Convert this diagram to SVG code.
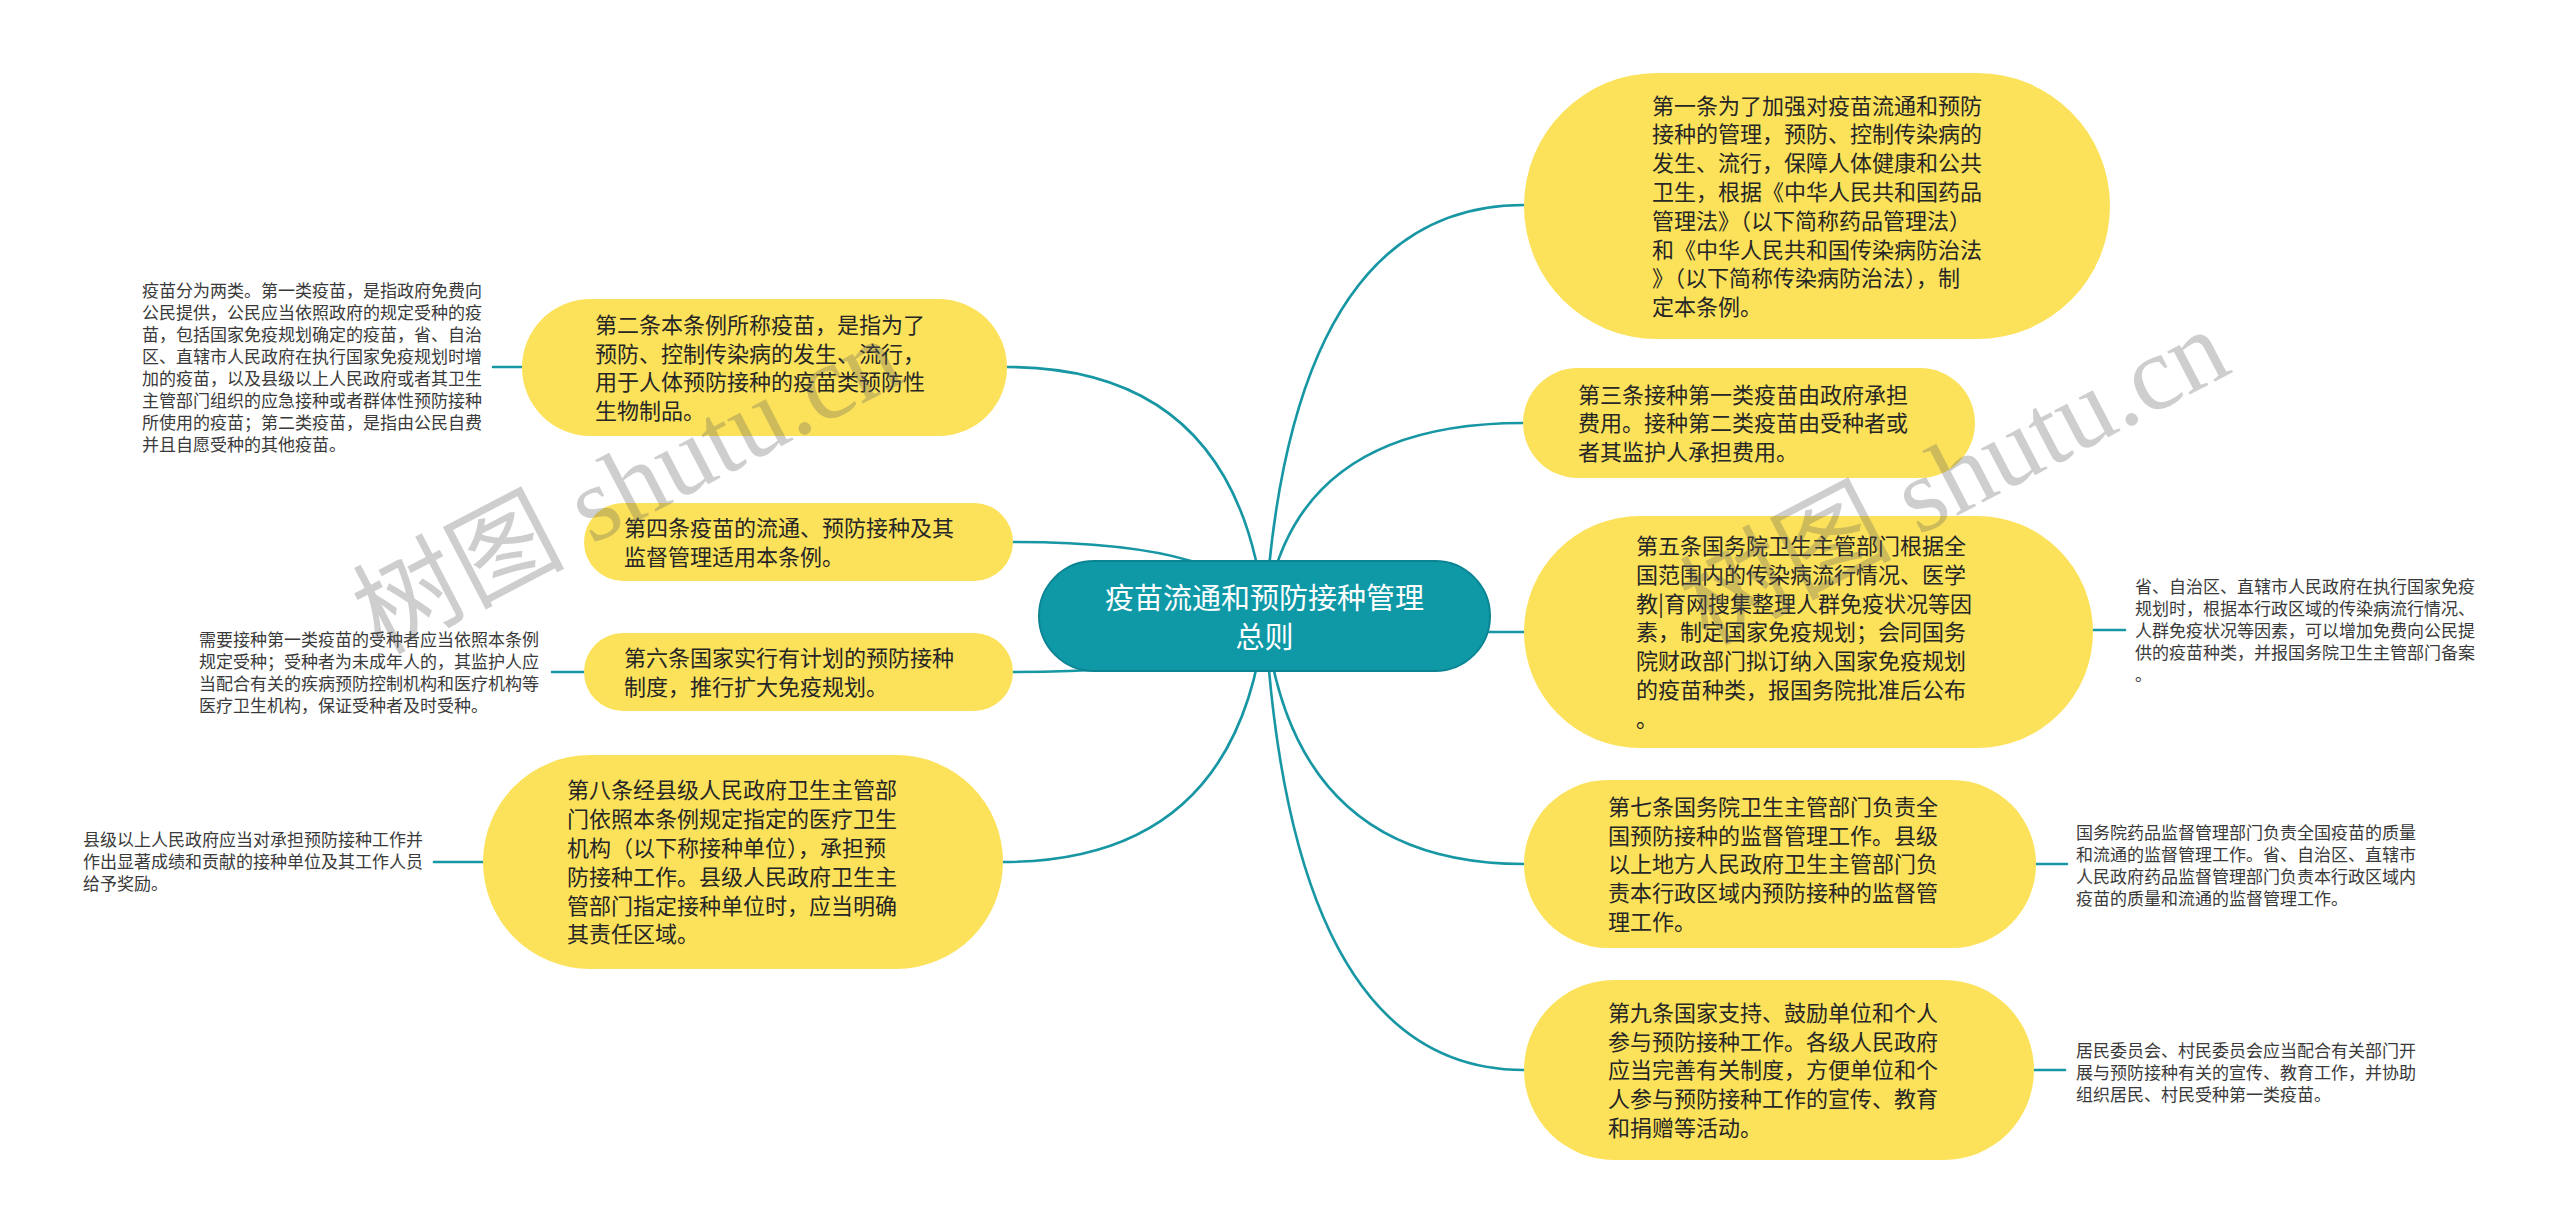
<svg xmlns="http://www.w3.org/2000/svg" width="2560" height="1229" viewBox="0 0 2560 1229">
<defs>
<style>
.conn{fill:none;stroke:#1796a4;stroke-width:2.6;stroke-linecap:round}
.node{fill:#fce25a}
.nt{font-family:'Noto Sans CJK SC',sans-serif;font-size:22px;fill:#262626}
.st{font-family:'Noto Sans CJK SC',sans-serif;font-size:17px;fill:#3a3a3a}
.root{fill:#0f99a7;stroke:#0b8593;stroke-width:2}
.rt{font-family:'Noto Sans CJK SC',sans-serif;font-size:29px;fill:#ffffff;text-anchor:middle}
.wm{font-family:'Liberation Serif','Noto Sans CJK SC',serif;font-size:106px;fill:#606060;opacity:0.3}
</style>
</defs>
<rect width="2560" height="1229" fill="#ffffff"/>
<g id="connectors">
<path class="conn" d="M1265,616 Q1291,205 1524,205"/>
<path class="conn" d="M1265,616 Q1291,423 1523,423"/>
<path class="conn" d="M1265,616 Q1291,632 1524,632"/>
<path class="conn" d="M1265,616 Q1291,864 1524,864"/>
<path class="conn" d="M1265,616 Q1291,1070 1524,1070"/>
<path class="conn" d="M1265,616 Q1239,367 1007,367"/>
<path class="conn" d="M1265,616 Q1240,542 1013,542"/>
<path class="conn" d="M1265,616 Q1240,672 1013,672"/>
<path class="conn" d="M1265,616 Q1239,862 1003,862"/>
<path class="conn" d="M2093,630 L2125,630"/>
<path class="conn" d="M2036,864 L2067,864"/>
<path class="conn" d="M2034,1070 L2065,1070"/>
<path class="conn" d="M493,367 L522,367"/>
<path class="conn" d="M552,672 L584,672"/>
<path class="conn" d="M434,862 L483,862"/>
</g>
<g id="root">
<rect class="root" x="1039" y="561" width="451" height="110" rx="55"/>
<text class="rt" x="1264.5" y="609"><tspan x="1264.5">疫苗流通和预防接种管理</tspan><tspan x="1264.5" dy="39">总则</tspan></text>
</g>
<g id="n1">
<rect class="node" x="1524" y="73" width="586" height="266" rx="133"/>
<text class="nt" x="1652" y="113.6"><tspan x="1652">第一条为了加强对疫苗流通和预防</tspan><tspan x="1652" dy="28.8">接种的管理，预防、控制传染病的</tspan><tspan x="1652" dy="28.8">发生、流行，保障人体健康和公共</tspan><tspan x="1652" dy="28.8">卫生，根据《中华人民共和国药品</tspan><tspan x="1652" dy="28.8">管理法》（以下简称药品管理法）</tspan><tspan x="1652" dy="28.8">和《中华人民共和国传染病防治法</tspan><tspan x="1652" dy="28.8">》（以下简称传染病防治法），制</tspan><tspan x="1652" dy="28.8">定本条例。</tspan></text>
</g>
<g id="n3">
<rect class="node" x="1523" y="368" width="452" height="110" rx="55"/>
<text class="nt" x="1578" y="402.6"><tspan x="1578">第三条接种第一类疫苗由政府承担</tspan><tspan x="1578" dy="28.8">费用。接种第二类疫苗由受种者或</tspan><tspan x="1578" dy="28.8">者其监护人承担费用。</tspan></text>
</g>
<g id="n5">
<rect class="node" x="1524" y="516" width="569" height="232" rx="116"/>
<text class="nt" x="1636" y="554"><tspan x="1636">第五条国务院卫生主管部门根据全</tspan><tspan x="1636" dy="28.8">国范围内的传染病流行情况、医学</tspan><tspan x="1636" dy="28.8">教|育网搜集整理人群免疫状况等因</tspan><tspan x="1636" dy="28.8">素，制定国家免疫规划；会同国务</tspan><tspan x="1636" dy="28.8">院财政部门拟订纳入国家免疫规划</tspan><tspan x="1636" dy="28.8">的疫苗种类，报国务院批准后公布</tspan><tspan x="1636" dy="28.8">。</tspan></text>
</g>
<g id="n5s">
<text class="st" x="2135" y="592.5"><tspan x="2135">省、自治区、直辖市人民政府在执行国家免疫</tspan><tspan x="2135" dy="22">规划时，根据本行政区域的传染病流行情况、</tspan><tspan x="2135" dy="22">人群免疫状况等因素，可以增加免费向公民提</tspan><tspan x="2135" dy="22">供的疫苗种类，并报国务院卫生主管部门备案</tspan><tspan x="2135" dy="22">。</tspan></text>
</g>
<g id="n7">
<rect class="node" x="1524" y="780" width="512" height="168" rx="84"/>
<text class="nt" x="1608" y="814.8"><tspan x="1608">第七条国务院卫生主管部门负责全</tspan><tspan x="1608" dy="28.8">国预防接种的监督管理工作。县级</tspan><tspan x="1608" dy="28.8">以上地方人民政府卫生主管部门负</tspan><tspan x="1608" dy="28.8">责本行政区域内预防接种的监督管</tspan><tspan x="1608" dy="28.8">理工作。</tspan></text>
</g>
<g id="n7s">
<text class="st" x="2076" y="838.5"><tspan x="2076">国务院药品监督管理部门负责全国疫苗的质量</tspan><tspan x="2076" dy="22">和流通的监督管理工作。省、自治区、直辖市</tspan><tspan x="2076" dy="22">人民政府药品监督管理部门负责本行政区域内</tspan><tspan x="2076" dy="22">疫苗的质量和流通的监督管理工作。</tspan></text>
</g>
<g id="n9">
<rect class="node" x="1524" y="980" width="510" height="180" rx="90"/>
<text class="nt" x="1608" y="1020.8"><tspan x="1608">第九条国家支持、鼓励单位和个人</tspan><tspan x="1608" dy="28.8">参与预防接种工作。各级人民政府</tspan><tspan x="1608" dy="28.8">应当完善有关制度，方便单位和个</tspan><tspan x="1608" dy="28.8">人参与预防接种工作的宣传、教育</tspan><tspan x="1608" dy="28.8">和捐赠等活动。</tspan></text>
</g>
<g id="n9s">
<text class="st" x="2076" y="1056.5"><tspan x="2076">居民委员会、村民委员会应当配合有关部门开</tspan><tspan x="2076" dy="22">展与预防接种有关的宣传、教育工作，并协助</tspan><tspan x="2076" dy="22">组织居民、村民受种第一类疫苗。</tspan></text>
</g>
<g id="n2">
<rect class="node" x="522" y="299" width="485" height="137" rx="68.5"/>
<text class="nt" x="595" y="332.7"><tspan x="595">第二条本条例所称疫苗，是指为了</tspan><tspan x="595" dy="28.8">预防、控制传染病的发生、流行，</tspan><tspan x="595" dy="28.8">用于人体预防接种的疫苗类预防性</tspan><tspan x="595" dy="28.8">生物制品。</tspan></text>
</g>
<g id="n2s">
<text class="st" x="142" y="296.5"><tspan x="142">疫苗分为两类。第一类疫苗，是指政府免费向</tspan><tspan x="142" dy="22">公民提供，公民应当依照政府的规定受种的疫</tspan><tspan x="142" dy="22">苗，包括国家免疫规划确定的疫苗，省、自治</tspan><tspan x="142" dy="22">区、直辖市人民政府在执行国家免疫规划时增</tspan><tspan x="142" dy="22">加的疫苗，以及县级以上人民政府或者其卫生</tspan><tspan x="142" dy="22">主管部门组织的应急接种或者群体性预防接种</tspan><tspan x="142" dy="22">所使用的疫苗；第二类疫苗，是指由公民自费</tspan><tspan x="142" dy="22">并且自愿受种的其他疫苗。</tspan></text>
</g>
<g id="n4">
<rect class="node" x="584" y="503" width="429" height="78" rx="39"/>
<text class="nt" x="624" y="536"><tspan x="624">第四条疫苗的流通、预防接种及其</tspan><tspan x="624" dy="28.8">监督管理适用本条例。</tspan></text>
</g>
<g id="n6">
<rect class="node" x="584" y="633" width="429" height="78" rx="39"/>
<text class="nt" x="624" y="666"><tspan x="624">第六条国家实行有计划的预防接种</tspan><tspan x="624" dy="28.8">制度，推行扩大免疫规划。</tspan></text>
</g>
<g id="n6s">
<text class="st" x="199" y="645.5"><tspan x="199">需要接种第一类疫苗的受种者应当依照本条例</tspan><tspan x="199" dy="22">规定受种；受种者为未成年人的，其监护人应</tspan><tspan x="199" dy="22">当配合有关的疾病预防控制机构和医疗机构等</tspan><tspan x="199" dy="22">医疗卫生机构，保证受种者及时受种。</tspan></text>
</g>
<g id="n8">
<rect class="node" x="483" y="755" width="520" height="214" rx="107"/>
<text class="nt" x="567" y="798.4"><tspan x="567">第八条经县级人民政府卫生主管部</tspan><tspan x="567" dy="28.8">门依照本条例规定指定的医疗卫生</tspan><tspan x="567" dy="28.8">机构（以下称接种单位），承担预</tspan><tspan x="567" dy="28.8">防接种工作。县级人民政府卫生主</tspan><tspan x="567" dy="28.8">管部门指定接种单位时，应当明确</tspan><tspan x="567" dy="28.8">其责任区域。</tspan></text>
</g>
<g id="n8s">
<text class="st" x="83" y="845.5"><tspan x="83">县级以上人民政府应当对承担预防接种工作并</tspan><tspan x="83" dy="22">作出显著成绩和贡献的接种单位及其工作人员</tspan><tspan x="83" dy="22">给予奖励。</tspan></text>
</g>
<g id="watermark">
<text class="wm" transform="translate(380,655) rotate(-27.5)">树图 shutu.cn</text>
<text class="wm" transform="translate(1707,646) rotate(-27.5)">树图 shutu.cn</text>
</g>
</svg>
